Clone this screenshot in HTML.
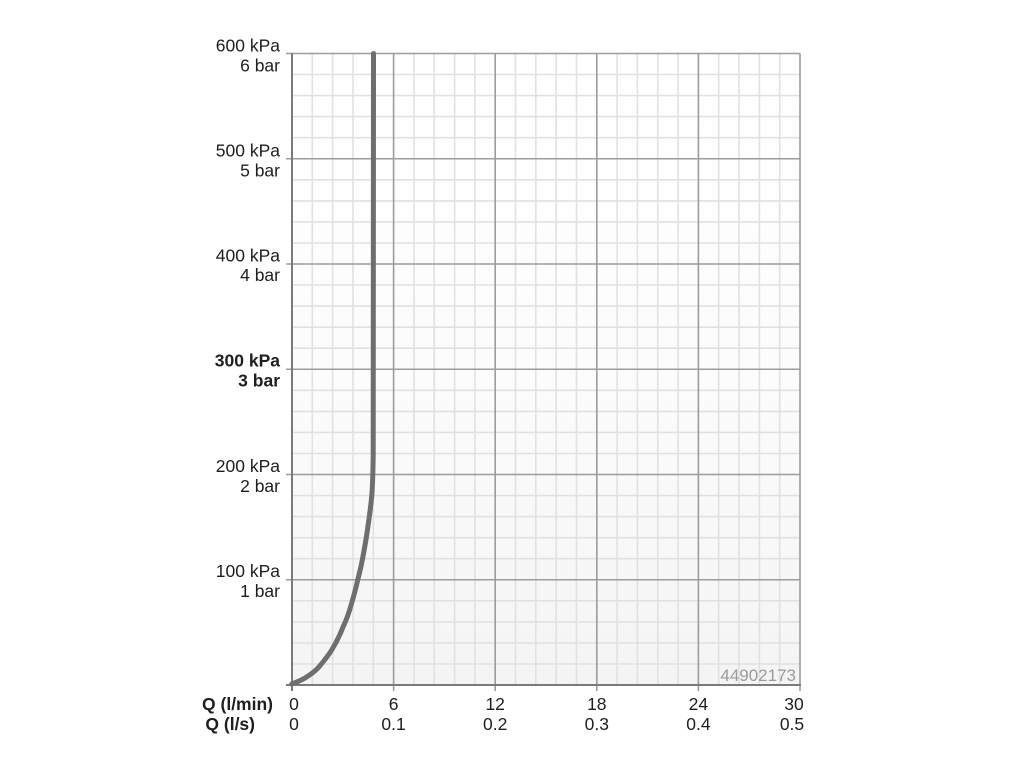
<!DOCTYPE html>
<html><head><meta charset="utf-8"><style>
html,body{margin:0;padding:0;background:#fff;}
svg{display:block;}
text{font-family:"Liberation Sans",Arial,sans-serif;fill:#1e1e1e;}
</style></head><body>
<svg width="1024" height="768" viewBox="0 0 1024 768" xmlns="http://www.w3.org/2000/svg">
<defs>
<linearGradient id="bg" x1="0" y1="0" x2="0" y2="1">
<stop offset="0" stop-color="#ffffff"/>
<stop offset="0.5" stop-color="#fcfcfc"/>
<stop offset="1" stop-color="#f4f4f4"/>
</linearGradient>
</defs>
<rect x="292" y="53.5" width="508" height="631.5" fill="url(#bg)"/>
<g stroke="#e1e1e1" stroke-width="1.6">
<line x1="312.3" y1="53.5" x2="312.3" y2="685"/><line x1="332.6" y1="53.5" x2="332.6" y2="685"/><line x1="353" y1="53.5" x2="353" y2="685"/><line x1="373.3" y1="53.5" x2="373.3" y2="685"/>
<line x1="414" y1="53.5" x2="414" y2="685"/><line x1="434.2" y1="53.5" x2="434.2" y2="685"/><line x1="454.6" y1="53.5" x2="454.6" y2="685"/><line x1="474.9" y1="53.5" x2="474.9" y2="685"/>
<line x1="515.5" y1="53.5" x2="515.5" y2="685"/><line x1="535.8" y1="53.5" x2="535.8" y2="685"/><line x1="556.2" y1="53.5" x2="556.2" y2="685"/><line x1="576.5" y1="53.5" x2="576.5" y2="685"/>
<line x1="617.1" y1="53.5" x2="617.1" y2="685"/><line x1="637.4" y1="53.5" x2="637.4" y2="685"/><line x1="657.8" y1="53.5" x2="657.8" y2="685"/><line x1="678.1" y1="53.5" x2="678.1" y2="685"/>
<line x1="718.7" y1="53.5" x2="718.7" y2="685"/><line x1="739" y1="53.5" x2="739" y2="685"/><line x1="759.4" y1="53.5" x2="759.4" y2="685"/><line x1="779.7" y1="53.5" x2="779.7" y2="685"/>
<line x1="292" y1="74.5" x2="800" y2="74.5"/><line x1="292" y1="95.6" x2="800" y2="95.6"/><line x1="292" y1="116.6" x2="800" y2="116.6"/><line x1="292" y1="137.7" x2="800" y2="137.7"/>
<line x1="292" y1="179.8" x2="800" y2="179.8"/><line x1="292" y1="200.9" x2="800" y2="200.9"/><line x1="292" y1="221.9" x2="800" y2="221.9"/><line x1="292" y1="243" x2="800" y2="243"/>
<line x1="292" y1="285" x2="800" y2="285"/><line x1="292" y1="306.1" x2="800" y2="306.1"/><line x1="292" y1="327.2" x2="800" y2="327.2"/><line x1="292" y1="348.2" x2="800" y2="348.2"/>
<line x1="292" y1="390.3" x2="800" y2="390.3"/><line x1="292" y1="411.4" x2="800" y2="411.4"/><line x1="292" y1="432.4" x2="800" y2="432.4"/><line x1="292" y1="453.5" x2="800" y2="453.5"/>
<line x1="292" y1="495.6" x2="800" y2="495.6"/><line x1="292" y1="516.6" x2="800" y2="516.6"/><line x1="292" y1="537.7" x2="800" y2="537.7"/><line x1="292" y1="558.7" x2="800" y2="558.7"/>
<line x1="292" y1="600.8" x2="800" y2="600.8"/><line x1="292" y1="621.9" x2="800" y2="621.9"/><line x1="292" y1="642.9" x2="800" y2="642.9"/><line x1="292" y1="664" x2="800" y2="664"/>
</g>
<g stroke="#9c9c9c" stroke-width="1.6">
<line x1="393.6" y1="53.5" x2="393.6" y2="691"/>
<line x1="495.2" y1="53.5" x2="495.2" y2="691"/>
<line x1="596.8" y1="53.5" x2="596.8" y2="691"/>
<line x1="698.4" y1="53.5" x2="698.4" y2="691"/>
<line x1="800" y1="53.5" x2="800" y2="691"/>
<line x1="286" y1="53.5" x2="800" y2="53.5"/>
<line x1="286" y1="158.75" x2="800" y2="158.75"/>
<line x1="286" y1="264" x2="800" y2="264"/>
<line x1="286" y1="369.25" x2="800" y2="369.25"/>
<line x1="286" y1="474.5" x2="800" y2="474.5"/>
<line x1="286" y1="579.75" x2="800" y2="579.75"/>
</g>
<g stroke="#7a7a7a" stroke-width="2">
<line x1="292" y1="53" x2="292" y2="691"/>
<line x1="286" y1="685" x2="801" y2="685"/>
</g>
<path d="M291.7,684 C297,682 301,680.5 305,678 C310,675 314,672 318,668 C324,661 328,656 331.7,650 C336,643 340,635 343,627 C347,619 349.5,611 351.7,603 C354,595 356,588 357.7,580 C359.5,573 361,567 362.3,560 C364,551 365.7,542 367,533 C369,519 371,506 372,493 C372.8,480 373,470 373.2,455 L373.5,53.5" fill="none" stroke="#6e6e6e" stroke-width="5" stroke-linecap="round" stroke-linejoin="round"/>
<text x="796" y="681" font-size="17" text-anchor="end" style="fill:#9a9a9a">44902173</text>
<g font-size="17.5" text-anchor="end">
<text x="280" y="51.5">600 kPa</text><text x="280" y="71.5">6 bar</text>
<text x="280" y="156.5">500 kPa</text><text x="280" y="176.5">5 bar</text>
<text x="280" y="261.5">400 kPa</text><text x="280" y="281">4 bar</text>
<text x="280" y="366.5" font-weight="bold">300 kPa</text><text x="280" y="386.5" font-weight="bold">3 bar</text>
<text x="280" y="472">200 kPa</text><text x="280" y="492">2 bar</text>
<text x="280" y="577">100 kPa</text><text x="280" y="597">1 bar</text>
</g>
<g font-size="17.5" font-weight="bold" text-anchor="end">
<text x="273" y="710">Q (l/min)</text>
<text x="255" y="730">Q (l/s)</text>
</g>
<g font-size="17.5" text-anchor="middle">
<text x="294" y="710">0</text><text x="393.6" y="710">6</text><text x="495.2" y="710">12</text><text x="596.8" y="710">18</text><text x="698.4" y="710">24</text><text x="794" y="710">30</text>
<text x="294" y="730">0</text><text x="393.6" y="730">0.1</text><text x="495.2" y="730">0.2</text><text x="596.8" y="730">0.3</text><text x="698.4" y="730">0.4</text><text x="792" y="730">0.5</text>
</g>
</svg>
</body></html>
